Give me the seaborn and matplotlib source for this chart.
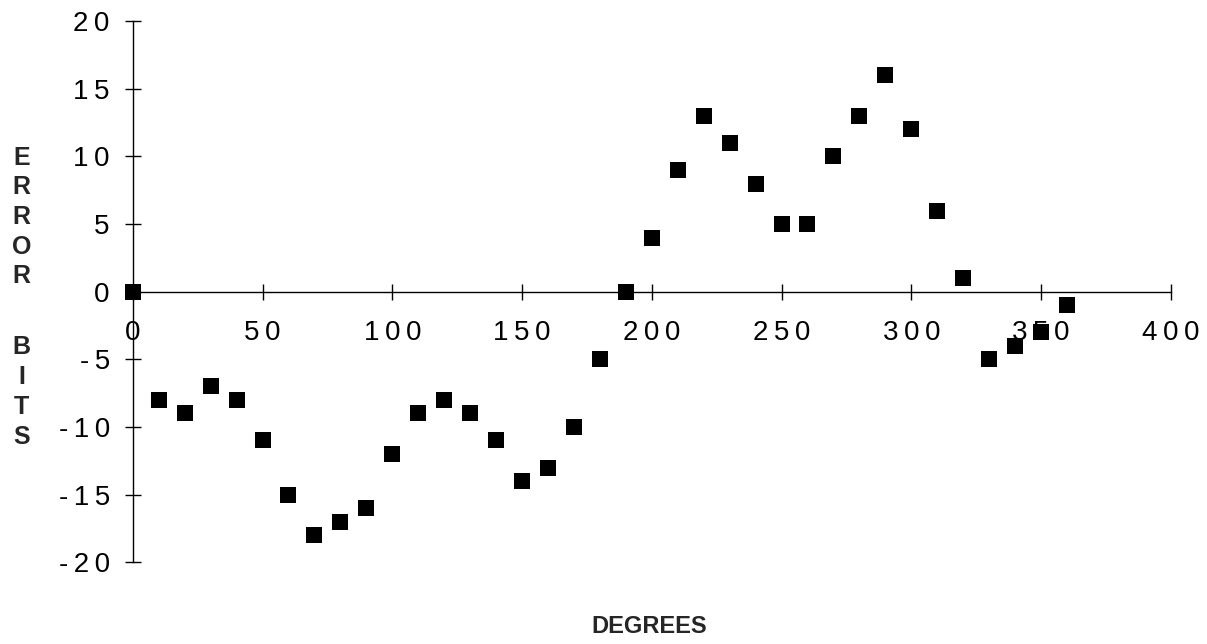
import matplotlib
matplotlib.use("Agg")
import matplotlib.pyplot as plt
import seaborn as sns
import pandas as pd

degrees = [0, 10, 20, 30, 40, 50, 60, 70, 80, 90, 100, 110, 120, 130, 140, 150,
           160, 170, 180, 190, 200, 210, 220, 230, 240, 250, 260, 270, 280, 290,
           300, 310, 320, 330, 340, 350, 360]
error_bits = [0, -8, -9, -7, -8, -11, -15, -18, -17, -16, -12, -9, -8, -9, -11, -14,
              -13, -10, -5, 0, 4, 9, 13, 11, 8, 5, 5, 10, 13, 16,
              12, 6, 1, -5, -4, -3, -1]

x_ticks = [0, 50, 100, 150, 200, 250, 300, 350, 400]
y_ticks = [-20, -15, -10, -5, 0, 5, 10, 15, 20]
SP = "\u2009"


def spaced(v):
    s = str(abs(v))
    s = SP.join(s)
    if v < 0:
        s = "-" + SP + s
    return s


x_labels = [spaced(v) for v in x_ticks]
y_labels = [spaced(v) for v in y_ticks]

sns.set_style("white")
plt.rcParams["font.family"] = ["Liberation Sans", "DejaVu Sans"]

df = pd.DataFrame({"degrees": degrees, "error": error_bits})

fig = plt.figure(figsize=(12.07, 6.44), dpi=100)
ax = fig.add_axes([0.110, 0.127, 0.860, 0.840])

sns.scatterplot(data=df, x="degrees", y="error", marker="s", s=125,
                color="black", linewidth=0, ax=ax, zorder=5, clip_on=False)

ax.set_xlim(0, 400)
ax.set_ylim(-20, 20)
ax.set_xticks(x_ticks)
ax.set_xticklabels(x_labels)
ax.set_yticks(y_ticks)
ax.set_yticklabels(y_labels)

for side in ["top", "right"]:
    ax.spines[side].set_visible(False)
ax.spines["bottom"].set_position(("data", 0))
for side in ["left", "bottom"]:
    ax.spines[side].set_linewidth(1.0)
    ax.spines[side].set_color("black")

ax.tick_params(axis="both", which="major", bottom=True, left=True,
               direction="inout", length=11, width=1.0,
               color="black", labelsize=20, labelcolor="black")
ax.tick_params(axis="y", pad=11)
ax.tick_params(axis="x", pad=15)

ax.set_xlabel("")
ax.set_ylabel("")

fig.text(0.5376, 0.01, "DEGREES", ha="center", va="bottom",
         fontsize=17, fontweight="bold")
fig.text(0.018, 1 - 217 / 644, "E\nR\nR\nO\nR", ha="center", va="center",
         fontsize=18, fontweight="bold", linespacing=1.3)
fig.text(0.018, 1 - 392 / 644, "B\nI\nT\nS", ha="center", va="center",
         fontsize=18, fontweight="bold", linespacing=1.3)

fig.savefig("out.png", dpi=100, facecolor="white")
